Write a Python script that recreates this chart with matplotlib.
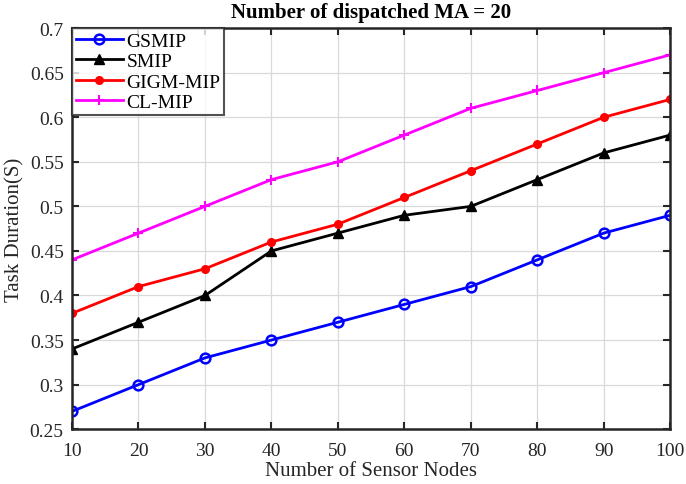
import matplotlib.pyplot as plt

nodes = [10, 20, 30, 40, 50, 60, 70, 80, 90, 100]
gsmip = [0.27, 0.30, 0.33, 0.35, 0.37, 0.39, 0.41, 0.44, 0.47, 0.49]
smip = [0.34, 0.37, 0.40, 0.45, 0.47, 0.49, 0.50, 0.53, 0.56, 0.58]
gigm_mip = [0.38, 0.41, 0.43, 0.46, 0.48, 0.51, 0.54, 0.57, 0.60, 0.62]
cl_mip = [0.44, 0.47, 0.50, 0.53, 0.55, 0.58, 0.61, 0.63, 0.65, 0.67]

plt.rcParams['font.family'] = ['Liberation Serif', 'DejaVu Serif']

fig = plt.figure(figsize=(6.86, 4.85), dpi=100)
ax = fig.add_axes([0.105, 0.113, 0.872, 0.827])

ax.plot(nodes, gsmip, color='blue', marker='o', ms=7, mfc='none', mew=1.8, lw=2, label='GSMIP')
ax.plot(nodes, smip, color='black', marker='^', ms=7, mfc='black', lw=2, label='SMIP')
ax.plot(nodes, gigm_mip, color='red', marker='o', ms=5.5, mfc='red', lw=2, label='GIGM-MIP')
ax.plot(nodes, cl_mip, color='magenta', marker='+', ms=7, mew=1.5, lw=2, label='CL-MIP')

ax.set_xlim(10, 100)
ax.set_ylim(0.25, 0.7)
ax.set_xticks(nodes)
ax.set_yticks([0.25, 0.3, 0.35, 0.4, 0.45, 0.5, 0.55, 0.6, 0.65, 0.7])
ax.set_yticklabels(['0.25', '0.3', '0.35', '0.4', '0.45', '0.5', '0.55', '0.6', '0.65', '0.7'])
ax.grid(True, color='#d9d9d9', lw=0.9)
ax.set_axisbelow(True)
ax.tick_params(direction='in', length=5, width=1.5, labelsize=14, colors='#262626', top=True, right=True)
ax.tick_params(axis='x', pad=9)
ax.tick_params(axis='y', pad=6)
for s in ax.spines.values():
    s.set_linewidth(1.8)
    s.set_color('#262626')

ax.set_xlabel('Number of Sensor Nodes', fontsize=15, color='#262626', labelpad=2)
ax.set_ylabel('Task Duration(S)', fontsize=15, color='#262626', labelpad=4)
ax.set_title('Number of dispatched MA = 20', fontsize=15, fontweight='bold', pad=8)

leg = ax.legend(loc='upper left', fontsize=14, frameon=True, fancybox=False, edgecolor='#262626',
                borderaxespad=0.0, handlelength=2.4, handletextpad=0.2, labelspacing=0.15, borderpad=0.2)
leg.get_frame().set_linewidth(1.5)

fig.savefig('out.png', dpi=100)
